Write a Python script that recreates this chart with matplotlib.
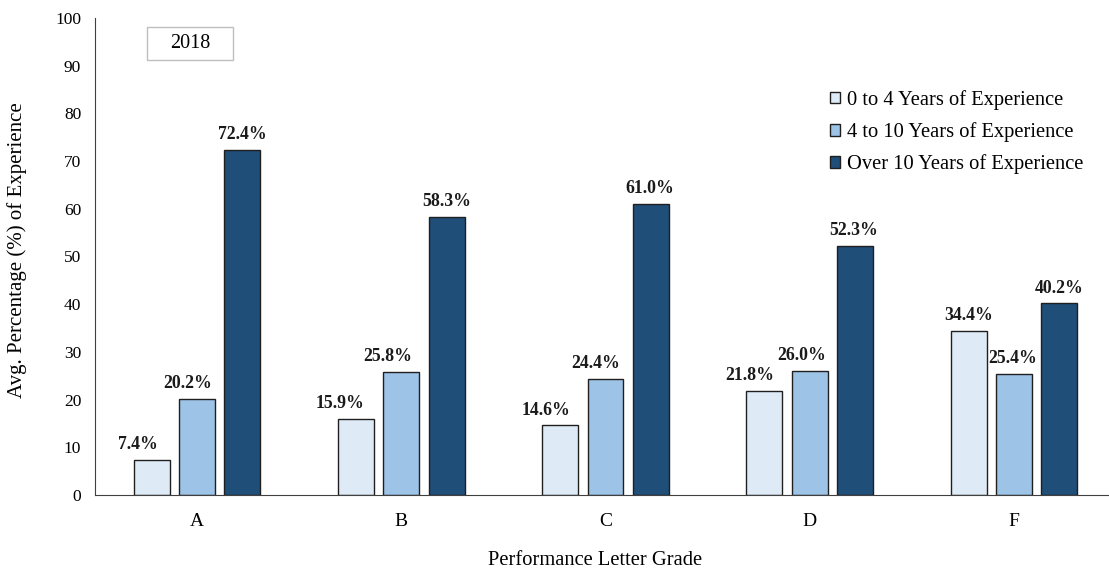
import numpy as np
import matplotlib
matplotlib.use('Agg')
import matplotlib.pyplot as plt
from matplotlib.patches import Rectangle

# Datos
grados = ['A', 'B', 'C', 'D', 'F']
exp_0_4 = [7.4, 15.9, 14.6, 21.8, 34.4]
exp_4_10 = [20.2, 25.8, 24.4, 26.0, 25.4]
exp_10_mas = [72.4, 58.3, 61.0, 52.3, 40.2]
series = ['0 to 4 Years of Experience', '4 to 10 Years of Experience', 'Over 10 Years of Experience']
colores = ['#DEEBF7', '#9DC3E6', '#1F4E79']

# Ajuste horizontal de las etiquetas (en pixeles), como en el original
ajuste_etiquetas = [
    [-14, -16, -14, -15, 0],
    [-10, -14, -10, -8, -1],
    [0, 0, -1, -1, 0],
]

plt.rcParams['font.family'] = ['Liberation Serif', 'DejaVu Serif']

fig = plt.figure(figsize=(11.09, 5.72), dpi=100)
ax = fig.add_axes([0.0857, 0.1346, 0.9206, 0.834])
px = 5.0 / 1021  # unidades de datos por pixel en x

x = np.arange(len(grados))
ancho = 0.176
desp = [-0.222, 0.0, 0.222]
for valores, nombre, color, d, aj in zip([exp_0_4, exp_4_10, exp_10_mas], series, colores, desp, ajuste_etiquetas):
    barras = ax.bar(x + d, valores, ancho, color=color, edgecolor='#1f1f1f', linewidth=1.0, label=nombre)
    for b, v, a in zip(barras, valores, aj):
        ax.text(b.get_x() + b.get_width() / 2 + a * px, v + 1.4, f"{v:.1f}%", ha='center', va='bottom',
                fontsize=12.8, fontweight='bold', color='#1a1a1a')

ax.set_xlim(-0.5, 4.5)
ax.set_ylim(0, 100)
ax.set_yticks(range(0, 101, 10))
ax.set_xticks(x)
ax.set_xticklabels(grados)
ax.tick_params(axis='both', length=0)
ax.tick_params(axis='y', pad=10, labelsize=12.5)
ax.tick_params(axis='x', pad=13, labelsize=14)
ax.spines['top'].set_visible(False)
ax.spines['right'].set_visible(False)
ax.spines['left'].set_color('#404040')
ax.spines['bottom'].set_color('#404040')

ax.set_ylabel('Avg. Percentage (%) of Experience', fontsize=15, va='center')
ax.yaxis.set_label_coords(-0.0764, 0.514)
ax.set_xlabel('Performance Letter Grade', fontsize=14.8, va='center')
ax.xaxis.set_label_coords(0.49, -0.138)

ax.legend(loc='upper left', bbox_to_anchor=(0.72, 0.849), frameon=False, fontsize=14.8,
          handlelength=0.5, handleheight=0.5, handletextpad=0.3, labelspacing=0.6,
          borderaxespad=0, borderpad=0)

ax.add_patch(Rectangle((0.0509, 0.9118), 0.0842, 0.0693, transform=ax.transAxes,
                       facecolor='white', edgecolor='#bfbfbf', linewidth=1.0, clip_on=False))
ax.text(0.093, 0.9464, '2018', transform=ax.transAxes, ha='center', va='center', fontsize=14.5)

plt.savefig('out.png', dpi=100)
